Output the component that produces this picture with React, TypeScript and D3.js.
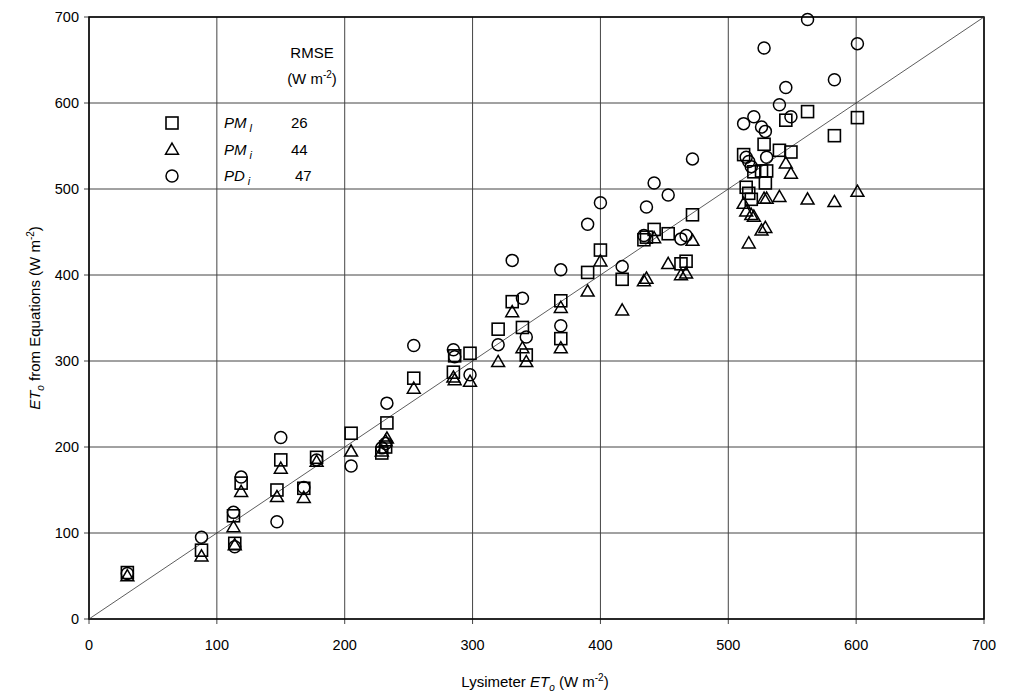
import React from 'react';
import * as d3 from 'd3';

// lysimeter ET_o (W m-2) and the three equation estimates
const lysimeter = [30, 88, 113, 114, 119, 147, 150, 168, 178, 205, 229, 232, 233, 254, 285, 286, 298, 320, 331, 339, 342, 369, 369, 390, 400, 417, 434, 436, 442, 453, 463, 467, 472, 512, 514, 516, 518, 520, 526, 528, 529, 530, 540, 545, 549, 562, 583, 601];
const pmL = [54, 80, 120, 88, 158, 150, 185, 152, 188, 216, 193, 200, 228, 280, 287, 306, 309, 337, 369, 339, 307, 370, 326, 403, 429, 395, 441, 444, 453, 448, 413, 416, 470, 540, 502, 495, 488, 520, 521, 552, 507, 521, 545, 580, 543, 590, 562, 583];
const pmI = [50, 73, 107, 86, 148, 142, 175, 141, 183, 195, 195, 207, 210, 268, 281, 278, 276, 299, 357, 315, 299, 362, 315, 381, 416, 359, 393, 396, 443, 413, 400, 402, 440, 483, 474, 437, 470, 468, 452, 489, 455, 489, 491, 530, 518, 488, 485, 497];
const pdI = [53, 95, 124, 84, 165, 113, 211, 153, 185, 178, 199, 204, 251, 318, 313, 305, 284, 319, 417, 373, 328, 406, 341, 459, 484, 410, 446, 479, 507, 493, 442, 446, 535, 576, 537, 532, 526, 584, 572, 664, 567, 537, 598, 618, 584, 697, 627, 669];

const ticks = [0, 100, 200, 300, 400, 500, 600, 700];
const rmse = [26, 44, 47];

const W = 1012;
const H = 692;
const left = 89, right = 984, top = 17, bottom = 619;
const font = "'Liberation Sans', Arial, sans-serif";

const x = d3.scaleLinear().domain([0, 700]).range([left, right]);
const y = d3.scaleLinear().domain([0, 700]).range([bottom, top]);

const Marker = ({ kind, cx, cy }: { kind: string; cx: number; cy: number }) => {
  if (kind === 'square') {
    return <rect x={cx - 6} y={cy - 6} width={12} height={12} fill="none" stroke="#000" strokeWidth={1.6} />;
  }
  if (kind === 'triangle') {
    const tri = d3.symbol(d3.symbolTriangle, 72)();
    return <path d={tri as string} transform={`translate(${cx},${cy + 1})`} fill="none" stroke="#000" strokeWidth={1.5} />;
  }
  return <circle cx={cx} cy={cy} r={6} fill="none" stroke="#000" strokeWidth={1.5} />;
};

export default function App() {
  const series = [
    { kind: 'square', values: pmL },
    { kind: 'triangle', values: pmI },
    { kind: 'circle', values: pdI },
  ];
  const legendRows = [
    { kind: 'square', name: 'PM', sub: 'l', dx: 0 },
    { kind: 'triangle', name: 'PM', sub: 'i', dx: 0 },
    { kind: 'circle', name: 'PD', sub: 'i', dx: 4 },
  ];

  return (
    <svg width={W} height={H} style={{ position: 'absolute', left: 0, top: 0, background: '#fff' }} fontFamily={font}>
      {/* grid */}
      {ticks.map(t => (
        <g key={'g' + t}>
          <line x1={x(t)} x2={x(t)} y1={top} y2={bottom + 5} stroke="#444" strokeWidth={1} />
          <line x1={left - 5} x2={right} y1={y(t)} y2={y(t)} stroke="#444" strokeWidth={1} />
        </g>
      ))}
      <rect x={left} y={top} width={right - left} height={bottom - top} fill="none" stroke="#000" strokeWidth={1.5} />
      {/* 1:1 line */}
      <line x1={x(0)} y1={y(0)} x2={x(700)} y2={y(700)} stroke="#333" strokeWidth={0.8} />

      {/* tick labels */}
      {ticks.map(t => (
        <text key={'x' + t} x={x(t)} y={bottom + 31} textAnchor="middle" fontSize={14.5}>{t}</text>
      ))}
      {ticks.map(t => (
        <text key={'y' + t} x={left - 10} y={y(t) + 5} textAnchor="end" fontSize={14.5}>{t}</text>
      ))}

      {/* axis titles */}
      <text x={535} y={687} textAnchor="middle" fontSize={15}>
        Lysimeter <tspan fontStyle="italic">ET</tspan>
        <tspan fontStyle="italic" fontSize={10} dy={4}>o</tspan>
        <tspan dy={-4}> (W m</tspan>
        <tspan fontSize={10} dy={-6}>-2</tspan>
        <tspan dy={6}>)</tspan>
      </text>
      <text transform="translate(40,318) rotate(-90)" textAnchor="middle" fontSize={15}>
        <tspan fontStyle="italic">ET</tspan>
        <tspan fontStyle="italic" fontSize={10} dy={4}>o</tspan>
        <tspan dy={-4}>  from Equations (W m</tspan>
        <tspan fontSize={10} dy={-6}>-2</tspan>
        <tspan dy={6}>)</tspan>
      </text>

      {/* legend */}
      <text x={312} y={58} textAnchor="middle" fontSize={15}>RMSE</text>
      <text x={312} y={84} textAnchor="middle" fontSize={15}>
        (W m<tspan fontSize={10} dy={-6}>-2</tspan><tspan dy={6}>)</tspan>
      </text>
      {legendRows.map((r, i) => {
        const cy = 123 + i * 26.5;
        return (
          <g key={'l' + i}>
            <Marker kind={r.kind} cx={172} cy={cy} />
            <text x={224} y={cy + 5} fontSize={15} fontStyle="italic">
              {r.name}<tspan fontSize={11} dx={3} dy={4}>{r.sub}</tspan>
            </text>
            <text x={291 + r.dx} y={cy + 5} fontSize={15}>{rmse[i]}</text>
          </g>
        );
      })}

      {/* points */}
      {series.map(s => (
        <g key={s.kind}>
          {lysimeter.map((lv, i) => (
            <Marker key={i} kind={s.kind} cx={x(lv)} cy={y(s.values[i])} />
          ))}
        </g>
      ))}
    </svg>
  );
}
